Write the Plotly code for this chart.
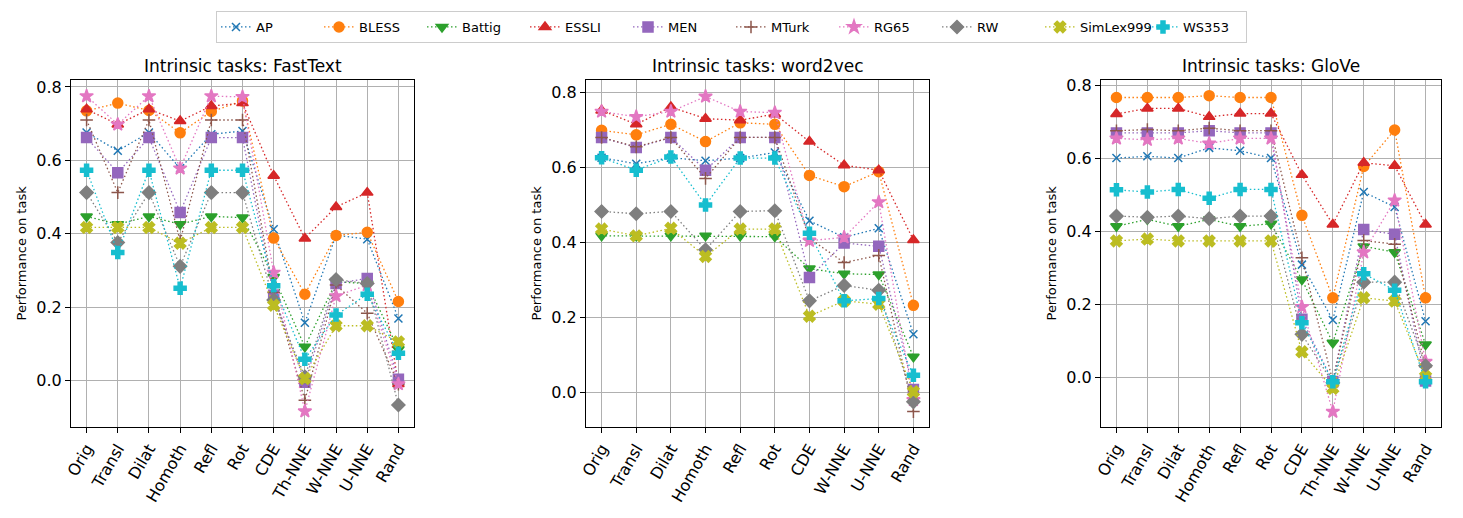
import plotly.graph_objects as go

cats_full = ["Orig", "Transl", "Dilat", "Homoth", "Refl", "Rot", "CDE", "Th-NNE", "W-NNE", "U-NNE", "Rand"]
cats_w2v = ["Orig", "Transl", "Dilat", "Homoth", "Refl", "Rot", "CDE", "W-NNE", "U-NNE", "Rand"]

tasks = ["AP", "BLESS", "Battig", "ESSLI", "MEN", "MTurk", "RG65", "RW", "SimLex999", "WS353"]

fasttext = {
    "AP":        [0.676, 0.626, 0.676, 0.578, 0.671, 0.680, 0.412, 0.157, 0.396, 0.385, 0.169],
    "BLESS":     [0.735, 0.756, 0.736, 0.675, 0.733, 0.762, 0.388, 0.235, 0.395, 0.404, 0.215],
    "Battig":    [0.447, 0.426, 0.447, 0.426, 0.447, 0.444, 0.282, 0.092, 0.269, 0.264, 0.085],
    "ESSLI":     [0.739, 0.698, 0.739, 0.707, 0.748, 0.756, 0.558, 0.387, 0.473, 0.512, -0.010],
    "MEN":       [0.662, 0.566, 0.662, 0.458, 0.662, 0.662, 0.232, -0.005, 0.264, 0.278, 0.003],
    "MTurk":     [0.710, 0.512, 0.710, 0.380, 0.710, 0.710, 0.240, -0.054, 0.260, 0.183, -0.010],
    "RG65":      [0.775, 0.698, 0.775, 0.578, 0.775, 0.773, 0.294, -0.084, 0.230, 0.260, -0.010],
    "RW":        [0.512, 0.376, 0.512, 0.311, 0.512, 0.512, 0.219, 0.010, 0.275, 0.264, -0.067],
    "SimLex999": [0.417, 0.417, 0.417, 0.374, 0.417, 0.417, 0.205, 0.005, 0.149, 0.149, 0.105],
    "WS353":     [0.573, 0.349, 0.573, 0.251, 0.573, 0.573, 0.258, 0.058, 0.178, 0.235, 0.074],
}

word2vec = {
    "AP":        [0.625, 0.609, 0.625, 0.617, 0.624, 0.639, 0.457, 0.413, 0.437, 0.155],
    "BLESS":     [0.698, 0.686, 0.714, 0.668, 0.718, 0.714, 0.578, 0.548, 0.588, 0.232],
    "Battig":    [0.417, 0.417, 0.417, 0.417, 0.417, 0.415, 0.330, 0.316, 0.314, 0.095],
    "ESSLI":     [0.751, 0.714, 0.760, 0.729, 0.725, 0.741, 0.668, 0.605, 0.592, 0.406],
    "MEN":       [0.679, 0.652, 0.679, 0.592, 0.679, 0.679, 0.306, 0.398, 0.389, 0.008],
    "MTurk":     [0.679, 0.654, 0.679, 0.570, 0.679, 0.679, 0.410, 0.346, 0.365, -0.051],
    "RG65":      [0.748, 0.734, 0.748, 0.788, 0.748, 0.745, 0.404, 0.413, 0.507, -0.020],
    "RW":        [0.482, 0.476, 0.482, 0.380, 0.482, 0.484, 0.244, 0.285, 0.272, -0.025],
    "SimLex999": [0.435, 0.417, 0.437, 0.362, 0.435, 0.435, 0.203, 0.244, 0.235, 0.002],
    "WS353":     [0.625, 0.592, 0.627, 0.499, 0.624, 0.624, 0.424, 0.244, 0.250, 0.046],
}

glove = {
    "AP":        [0.602, 0.607, 0.602, 0.630, 0.622, 0.602, 0.310, 0.158, 0.509, 0.468, 0.155],
    "BLESS":     [0.768, 0.768, 0.768, 0.773, 0.768, 0.768, 0.445, 0.219, 0.579, 0.679, 0.219],
    "Battig":    [0.415, 0.434, 0.415, 0.434, 0.415, 0.422, 0.269, 0.096, 0.360, 0.344, 0.091],
    "ESSLI":     [0.723, 0.738, 0.738, 0.715, 0.724, 0.724, 0.556, 0.420, 0.589, 0.581, 0.420],
    "MEN":       [0.671, 0.671, 0.671, 0.677, 0.671, 0.671, 0.160, -0.010, 0.406, 0.393, -0.009],
    "MTurk":     [0.677, 0.680, 0.677, 0.684, 0.677, 0.677, 0.329, -0.010, 0.376, 0.366, 0.030],
    "RG65":      [0.656, 0.652, 0.656, 0.642, 0.656, 0.656, 0.194, -0.093, 0.344, 0.486, 0.044],
    "RW":        [0.443, 0.440, 0.443, 0.436, 0.443, 0.443, 0.119, -0.014, 0.262, 0.262, 0.033],
    "SimLex999": [0.375, 0.380, 0.375, 0.375, 0.375, 0.375, 0.071, -0.029, 0.219, 0.210, 0.003],
    "WS353":     [0.515, 0.509, 0.516, 0.492, 0.516, 0.516, 0.151, -0.011, 0.285, 0.240, -0.011],
}

colors = ["#1f77b4", "#ff7f0e", "#2ca02c", "#d62728", "#9467bd",
          "#8c564b", "#e377c2", "#7f7f7f", "#bcbd22", "#17becf"]
symbols = ["x-thin-open", "circle", "triangle-down", "triangle-up", "square",
           "cross-thin-open", "star", "diamond", "x", "cross"]
sizes = [8, 10, 10, 10, 10, 9, 10, 10, 10, 10]

W, H = 1463, 518
panels = [
    ("FastText", cats_full, fasttext, (71, 414), [-0.127, 0.819], [-0.5, 10.5]),
    ("word2vec", cats_w2v, word2vec, (586, 929), [-0.092, 0.832], [-0.45, 9.45]),
    ("GloVe", cats_full, glove, (1101, 1441), [-0.135, 0.816], [-0.5, 10.5]),
]
ytop, ybot = 80, 427

fig = go.Figure()
annotations = []
for pi, (name, cats, data, (x0, x1), yr, xr) in enumerate(panels):
    sfx = "" if pi == 0 else str(pi + 1)
    for ti, t in enumerate(tasks):
        fig.add_trace(go.Scatter(
            x=cats, y=data[t], name=t, mode="lines+markers",
            xaxis="x" + sfx, yaxis="y" + sfx,
            showlegend=(pi == 0), legendgroup=t,
            line=dict(color=colors[ti], width=1.3, dash="1.5px,2.5px"),
            marker=dict(symbol=symbols[ti], size=sizes[ti], color=colors[ti],
                        line=dict(width=1.5, color=colors[ti])),
        ))
    axcommon = dict(showline=True, linecolor="black", linewidth=1.2, mirror=True,
                    showgrid=True, gridcolor="#b0b0b0", gridwidth=1,
                    ticks="outside", ticklen=5, tickcolor="black", zeroline=False,
                    automargin=False,
                    tickfont=dict(family="DejaVu Sans", size=16, color="black"))
    fig.update_layout(**{
        "xaxis" + sfx: dict(domain=[x0 / W, x1 / W], anchor="y" + sfx, type="category",
                            categoryorder="array", categoryarray=cats, range=xr,
                            tickangle=-60, **axcommon),
        "yaxis" + sfx: dict(domain=[(H - ybot) / H, (H - ytop) / H], anchor="x" + sfx,
                            range=yr, tickvals=[0.0, 0.2, 0.4, 0.6, 0.8], tickformat=".1f",
                            **axcommon),
    })
    annotations.append(dict(text="Intrinsic tasks: " + name, x=(x0 + x1) / 2 / W, y=(H - 66) / H,
                            xref="paper", yref="paper", showarrow=False,
                            xanchor="center", yanchor="middle",
                            font=dict(family="DejaVu Sans", size=17, color="black")))
    annotations.append(dict(text="Performance on task", x=(x0 - 50) / W, y=(H - (ytop + ybot) / 2) / H,
                            xref="paper", yref="paper", showarrow=False, textangle=-90,
                            xanchor="center", yanchor="middle",
                            font=dict(family="DejaVu Sans", size=13, color="black")))

fig.update_layout(
    width=W, height=H, margin=dict(l=0, r=0, t=0, b=0, autoexpand=False),
    paper_bgcolor="white", plot_bgcolor="white",
    annotations=annotations,
    legend=dict(orientation="h", x=0.5, xanchor="center", y=(H - 27) / H, yanchor="middle",
                bordercolor="#cccccc", borderwidth=1, bgcolor="white",
                font=dict(family="DejaVu Sans", size=13, color="black"),
                entrywidth=58, itemwidth=30),
    font=dict(family="DejaVu Sans"),
)

fig.write_html("out.html", config={"displayModeBar": False},
               post_script="document.body.style.margin='0';document.body.style.padding='0';")
